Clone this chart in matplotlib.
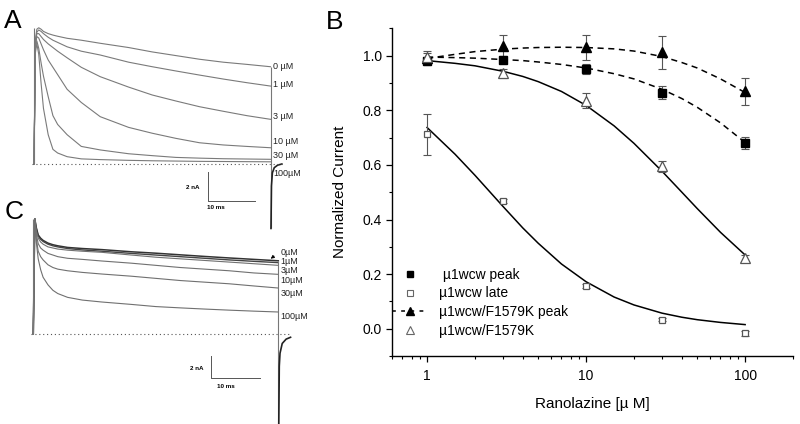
import numpy as np
import matplotlib.pyplot as plt
from matplotlib.lines import Line2D

plt.rcParams['font.family'] = ['Liberation Sans', 'DejaVu Sans']

# ---------------- panel B data (normalized current vs ranolazine, uM) ----------------
conc = [1, 3, 10, 30, 100]

wt_peak = [0.98, 0.985, 0.95, 0.865, 0.68]
wt_peak_err = [0.015, 0.012, 0.018, 0.024, 0.022]
wt_late = [0.713, 0.468, 0.156, 0.033, -0.017]
wt_late_err = [0.075, 0.008, 0.008, 0.006, 0.01]
fk_peak = [0.99, 1.037, 1.031, 1.013, 0.869]
fk_peak_err = [0.02, 0.038, 0.045, 0.06, 0.051]
fk_late = [0.994, 0.935, 0.835, 0.595, 0.258]
fk_late_err = [0.025, 0.015, 0.027, 0.021, 0.012]

# fitted curves
fit_x = [1, 1.5, 2, 3, 4, 5, 7, 10, 15, 20, 30, 40, 50, 70, 100]
fit_wt_peak = [0.995, 0.993, 0.991, 0.986, 0.982, 0.977, 0.968, 0.955, 0.934, 0.915,
               0.877, 0.843, 0.811, 0.754, 0.682]
fit_wt_late = [0.737, 0.639, 0.562, 0.448, 0.369, 0.313, 0.237, 0.172, 0.116, 0.087,
               0.057, 0.042, 0.033, 0.023, 0.015]
fit_fk_peak = [0.99, 1.005, 1.015, 1.024, 1.028, 1.03, 1.031, 1.03, 1.025, 1.017,
               0.997, 0.975, 0.955, 0.915, 0.865]
fit_fk_late = [0.982, 0.972, 0.963, 0.943, 0.924, 0.905, 0.869, 0.818, 0.743, 0.679,
               0.577, 0.5, 0.44, 0.353, 0.27]

legend_labels = [' \u00b51wcw peak', '\u00b51wcw late', '\u00b51wcw/F1579K peak', '\u00b51wcw/F1579K']

# ---------------- panels A and C: current traces (time ms, current nA) ----------------
t_ms = [0, 0.3, 0.6, 1, 1.5, 2, 3, 4, 5, 7, 10, 14, 20, 25, 30, 35, 40, 45, 50]

traces_A = {
    '0 \u00b5M':   [0, 8.5, 9.2, 9.3, 9.2, 9.05, 8.9, 8.8, 8.72, 8.58, 8.45, 8.24, 7.95, 7.65, 7.4, 7.15, 6.95, 6.8, 6.64],
    '1 \u00b5M':   [0, 8.3, 9.0, 9.15, 9.05, 8.9, 8.65, 8.45, 8.3, 8.0, 7.7, 7.44, 6.95, 6.64, 6.35, 6.07, 5.8, 5.55, 5.32],
    '3 \u00b5M':   [0, 8.2, 8.9, 8.9, 8.7, 8.5, 8.2, 7.95, 7.7, 7.25, 6.6, 5.96, 5.25, 4.71, 4.3, 3.91, 3.6, 3.3, 3.05],
    '10 \u00b5M':  [0, 8.1, 8.7, 8.6, 8.2, 7.8, 7.1, 6.6, 6.1, 5.1, 4.2, 3.23, 2.5, 2.1, 1.75, 1.45, 1.3, 1.2, 1.11],
    '30 \u00b5M':  [0, 7.9, 8.4, 7.9, 6.9, 6.0, 4.6, 3.3, 2.7, 2.0, 1.2, 0.96, 0.7, 0.57, 0.45, 0.4, 0.36, 0.34, 0.32],
    '100\u00b5M':  [0, 7.6, 8.2, 7.5, 5.5, 3.8, 2.0, 1.0, 0.75, 0.5, 0.35, 0.3, 0.25, 0.22, 0.2, 0.18, 0.17, 0.16, 0.15],
}
label_y_A = [6.64, 5.46, 3.23, 1.52, 0.61, -0.63]

traces_C = {
    '0\u00b5M':   [0, 10.6, 9.8, 9.1, 8.8, 8.6, 8.35, 8.2, 8.1, 7.95, 7.85, 7.75, 7.55, 7.42, 7.27, 7.12, 6.98, 6.85, 6.72],
    '1\u00b5M':   [0, 10.6, 9.7, 9.0, 8.7, 8.5, 8.25, 8.1, 8.0, 7.85, 7.72, 7.6, 7.4, 7.25, 7.1, 6.95, 6.8, 6.67, 6.55],
    '3\u00b5M':   [0, 10.6, 9.5, 8.8, 8.45, 8.25, 8.0, 7.9, 7.8, 7.7, 7.6, 7.5, 7.25, 7.05, 6.9, 6.75, 6.6, 6.45, 6.3],
    '10\u00b5M':  [0, 10.6, 9.2, 8.3, 7.9, 7.7, 7.4, 7.25, 7.1, 6.95, 6.85, 6.7, 6.5, 6.3, 6.1, 5.95, 5.8, 5.6, 5.47],
    '30\u00b5M':  [0, 10.6, 8.8, 7.6, 7.1, 6.8, 6.35, 6.1, 5.95, 5.8, 5.65, 5.5, 5.3, 5.1, 4.9, 4.75, 4.6, 4.4, 4.21],
    '100\u00b5M': [0, 10.6, 8.5, 6.9, 5.9, 5.2, 4.5, 4.0, 3.7, 3.35, 3.1, 2.92, 2.7, 2.5, 2.38, 2.27, 2.17, 2.08, 2.0],
}
label_y_C = [7.47, 6.61, 5.84, 4.92, 3.75, 1.63]

# tail currents after the pulse
tail_t_A = [50.1, 50.2, 50.4, 50.8, 51.5, 52.4]
tail_I_A = [-4.4, -1.5, -0.6, -0.25, -0.08, 0.0]
tail_t_C = [50.1, 50.2, 50.35, 50.8, 51.6, 52.5]
tail_I_C = [-8.3, -3.0, -1.8, -0.9, -0.5, -0.33]

W, H = 800, 424
fig = plt.figure(figsize=(W / 100, H / 100), dpi=100)


def trace_axes(x0, y0, sx, sy, xlim, ylim):
    """axes placed so that (t=0, I=0) sits at pixel (x0, y0) with sx, sy px per unit"""
    left = x0 + xlim[0] * sx
    right = x0 + xlim[1] * sx
    top = y0 - ylim[1] * sy
    bottom = y0 - ylim[0] * sy
    ax = fig.add_axes([left / W, 1 - bottom / H, (right - left) / W, (bottom - top) / H])
    ax.set_xlim(xlim)
    ax.set_ylim(ylim)
    ax.axis('off')
    return ax


def draw_traces(ax, traces, colors, widths, label_y, label_t, tail_t, tail_I, bar, fs):
    for (name, vals), col, lw, ly in zip(traces.items(), colors, widths, label_y):
        ax.plot(t_ms, vals, color=col, lw=lw)
        ax.text(label_t, ly, name, fontsize=fs, va='center', ha='left', color='#222222')
    top_end = max(v[-1] for v in traces.values())
    ax.vlines(50, min(tail_I), top_end, color='#777777', lw=0.8)
    ax.vlines(0, 0, max(max(v) for v in traces.values()), color='#777777', lw=0.8)
    ax.plot(tail_t, tail_I, color='#222222', lw=1.2)
    ax.plot([-0.4, 52.5], [0, 0], color='#555555', lw=0.8, ls=(0, (1, 2.5)))
    bt, bi, bi2, lab_t, lab_i, ms_t, ms_i = bar
    ax.plot([bt, bt, bt + 10], [bi, bi2, bi2], color='#555555', lw=0.7)
    ax.text(lab_t, lab_i, '2 nA', fontsize=4.5, ha='right', va='center', weight='bold')
    ax.text(ms_t, ms_i, '10 ms', fontsize=4.5, ha='center', va='center', weight='bold')


# ---------------- panel A ----------------
axA = trace_axes(34, 164, 4.73, 14.65, (-3, 58), (-7, 10.5))
draw_traces(axA, traces_A, ['#7a7a7a'] * 6, [0.8] * 6, label_y_A, 50.6, tail_t_A, tail_I_A,
            (36.7, -0.53, -2.53, 35.0, -1.62, 38.5, -3.0), 6.5)

# ---------------- panel C ----------------
axC = trace_axes(33.3, 333.7, 4.9, 10.85, (-3, 58), (-8.5, 11.5))
draw_traces(axC, traces_C, ['#333333', '#444444'] + ['#707070'] * 4, [1.1, 1.0, 0.8, 0.8, 0.8, 0.8],
            label_y_C, 50.4, tail_t_C, tail_I_C, (36.3, -2.06, -4.06, 34.7, -3.23, 39.2, -4.85), 6.5)
axC.annotate('', xy=(48.0, 6.76), xytext=(49.6, 7.3),
             arrowprops=dict(arrowstyle='-|>', lw=0.6, color='k', mutation_scale=5))

# ---------------- panel B ----------------
axB = fig.add_axes([391.8 / W, 1 - 356 / H, (793 - 391.8) / W, (356 - 28.4) / H])
axB.set_xscale('log')
axB.set_xlim(0.6, 200)
axB.set_ylim(-0.1, 1.1)

axB.plot(fit_x, fit_wt_peak, color='k', lw=1.1, dashes=(4, 3))
axB.plot(fit_x, fit_fk_peak, color='k', lw=1.1, dashes=(4, 3))
axB.plot(fit_x, fit_wt_late, color='k', lw=1.1)
axB.plot(fit_x, fit_fk_late, color='k', lw=1.1)

for vals, err in [(wt_peak, wt_peak_err), (wt_late, wt_late_err),
                  (fk_peak, fk_peak_err), (fk_late, fk_late_err)]:
    axB.errorbar(conc, vals, yerr=err, fmt='none', ecolor='#555555', elinewidth=0.8,
                 capsize=3, capthick=0.8, zorder=3)

axB.plot(conc, wt_peak, ls='none', marker='s', ms=5.5, color='k', zorder=4)
axB.plot(conc, wt_late, ls='none', marker='s', ms=5, mfc='white', mec='#555555', mew=0.9, zorder=4)
axB.plot(conc, fk_peak, ls='none', marker='^', ms=7, color='k', zorder=4)
axB.plot(conc, fk_late, ls='none', marker='^', ms=6.5, mfc='white', mec='#555555', mew=0.9, zorder=4)

handles = [
    Line2D([], [], ls='none', marker='s', ms=5, color='k'),
    Line2D([], [], ls='none', marker='s', ms=5, mfc='white', mec='#666666', mew=0.8),
    Line2D([], [], color='k', lw=1.1, dashes=(2.5, 3.5), marker='^', ms=6),
    Line2D([], [], ls='none', marker='^', ms=6, mfc='white', mec='#666666', mew=0.8),
]
axB.legend(handles, legend_labels, loc='upper left', bbox_to_anchor=(0.0, 0.27),
           frameon=False, fontsize=10, handlelength=2.6, handletextpad=0.8,
           labelspacing=0.35, borderpad=0, borderaxespad=0)

axB.set_yticks([0.0, 0.2, 0.4, 0.6, 0.8, 1.0])
axB.set_yticks(np.arange(-0.1, 1.15, 0.1), minor=True)
axB.set_yticklabels(['0.0', '0.2', '0.4', '0.6', '0.8', '1.0'])
axB.set_xticks([1, 10, 100])
axB.set_xticklabels(['1', '10', '100'])
axB.tick_params(which='major', length=4.5, width=0.9, labelsize=10, pad=2.5)
axB.tick_params(which='minor', length=2.5, width=0.8)
axB.tick_params(axis='x', which='major', pad=5)
for s in ['top', 'right']:
    axB.spines[s].set_visible(False)
for s in ['left', 'bottom']:
    axB.spines[s].set_linewidth(1.0)

axB.set_xlabel('Ranolazine [\u00b5 M]', fontsize=11)
axB.set_ylabel('Normalized Current', fontsize=11)
axB.xaxis.set_label_coords(0.5, -0.126)
axB.yaxis.set_label_coords(-0.112, 0.5)

# panel letters
fig.text(4 / W, 1 - 28 / H, 'A', fontsize=19)
fig.text(326 / W, 1 - 29 / H, 'B', fontsize=19)
fig.text(5 / W, 1 - 219 / H, 'C', fontsize=19)

fig.savefig('out.png', dpi=100)
